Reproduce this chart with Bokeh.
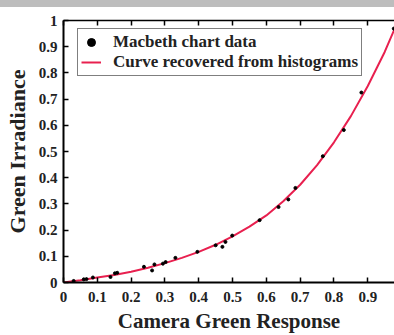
from bokeh.plotting import figure
from bokeh.models import Range1d, LinearAxis, FixedTicker, Legend, LegendItem, Div
from bokeh.layouts import column
from bokeh.embed import file_html
from bokeh.resources import INLINE

# Macbeth chart data (camera green response vs green irradiance)
data_x = [0.030, 0.060, 0.068, 0.087, 0.139, 0.152, 0.159, 0.238, 0.262, 0.269,
          0.294, 0.302, 0.331, 0.396, 0.450, 0.470, 0.479, 0.499, 0.580, 0.636,
          0.665, 0.686, 0.767, 0.829, 0.881, 0.977]
data_y = [0.006, 0.012, 0.013, 0.019, 0.021, 0.035, 0.037, 0.060, 0.046, 0.069,
          0.072, 0.078, 0.094, 0.117, 0.142, 0.136, 0.155, 0.179, 0.238, 0.288,
          0.317, 0.361, 0.482, 0.582, 0.725, 0.969]

# Curve recovered from histograms
curve_x = [0.0, 0.05, 0.1, 0.15, 0.2, 0.25, 0.3, 0.35, 0.4, 0.45, 0.5,
           0.55, 0.6, 0.65, 0.7, 0.75, 0.8, 0.85, 0.9, 0.95, 0.98]
curve_y = [0.0, 0.009, 0.019, 0.029, 0.041, 0.056, 0.074, 0.094, 0.117, 0.144, 0.176,
           0.213, 0.256, 0.310, 0.373, 0.448, 0.535, 0.635, 0.750, 0.880, 0.970]

x_ticks = [0, 0.1, 0.2, 0.3, 0.4, 0.5, 0.6, 0.7, 0.8, 0.9]
x_tick_labels = ["0", "0.1", "0.2", "0.3", "0.4", "0.5", "0.6", "0.7", "0.8", "0.9"]
y_ticks = [0, 0.1, 0.2, 0.3, 0.4, 0.5, 0.6, 0.7, 0.8, 0.9, 1.0]
y_tick_labels = ["0", "0.1", "0.2", "0.3", "0.4", "0.5", "0.6", "0.7", "0.8", "0.9", "1"]

FONT = "Liberation Serif"

p = figure(width=394, height=328, output_backend="svg", toolbar_location=None,
           x_range=Range1d(0, 0.979), y_range=Range1d(0, 1.0),
           min_border_left=63, min_border_right=0, min_border_top=13,
           min_border_bottom=50)
p.outline_line_color = None
p.xgrid.visible = False
p.ygrid.visible = False
p.background_fill_color = "white"
p.border_fill_color = "white"

line_r = p.line(curve_x, curve_y, line_color="#e8204f", line_width=2)
pts_r = p.scatter(data_x, data_y, marker="circle", size=3, fill_color="black",
                  line_color="black")

def style_axis(ax, ticks, labels, label_size):
    ax.ticker = FixedTicker(ticks=ticks)
    ax.major_label_overrides = {t: l for t, l in zip(ticks, labels)}
    ax.major_tick_in = 5
    ax.major_tick_out = 0
    ax.minor_tick_in = 0
    ax.minor_tick_out = 0
    ax.axis_line_width = 2
    ax.axis_line_color = "black"
    ax.major_tick_line_color = "black"
    ax.major_tick_line_width = 1.5
    ax.major_label_text_font = FONT
    ax.major_label_text_font_style = "bold"
    ax.major_label_text_font_size = label_size
    ax.major_label_text_color = "#222222"
    ax.axis_label_text_font = FONT
    ax.axis_label_text_font_style = "bold"
    ax.axis_label_text_color = "#222222"

xa = p.xaxis[0]
style_axis(xa, x_ticks, x_tick_labels, "15px")
xa.axis_label = "Camera Green Response"
xa.axis_label_text_font_size = "21px"
xa.major_label_standoff = 9
xa.axis_label_standoff = 4

ya = p.yaxis[0]
style_axis(ya, y_ticks, y_tick_labels, "15px")
ya.axis_label = "Green Irradiance"
ya.axis_label_text_font_size = "22px"
ya.major_label_standoff = 6
ya.axis_label_standoff = 6

top = LinearAxis()
style_axis(top, x_ticks, ["" for _ in x_ticks], "10px")
top.axis_line_width = 1.5
top.major_label_standoff = 0
p.add_layout(top, "above")

legend = Legend(items=[
    LegendItem(label="Macbeth chart data", renderers=[pts_r]),
    LegendItem(label="Curve recovered from histograms", renderers=[line_r]),
], location=(14, 206))
legend.margin = 0
legend.padding = 3
legend.spacing = 0
legend.glyph_width = 20
legend.glyph_height = 20
legend.label_height = 20
legend.label_standoff = 12
legend.label_text_font = FONT
legend.label_text_font_style = "bold"
legend.label_text_font_size = "17px"
legend.label_text_color = "#222222"
legend.border_line_color = "black"
legend.border_line_width = 1.5
legend.background_fill_color = "white"
legend.background_fill_alpha = 1.0
p.add_layout(legend, "center")

band = Div(text="", width=394, height=7,
           styles={"background-color": "#bdbdbd", "margin": "0"})

layout = column(band, p, spacing=0)

open("out.html", "w").write(file_html(layout, INLINE))
